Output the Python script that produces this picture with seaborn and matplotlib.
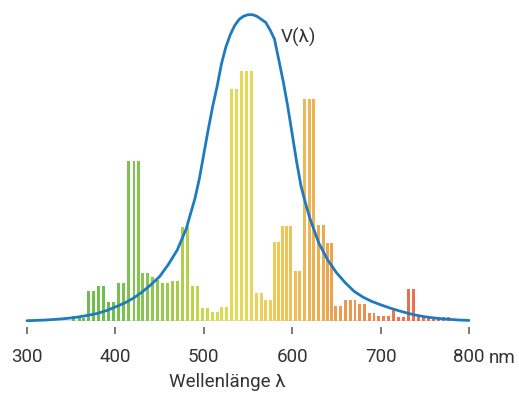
import matplotlib
matplotlib.use("Agg")
import numpy as np
import pandas as pd
import matplotlib.pyplot as plt
from matplotlib.colors import LinearSegmentedColormap, to_hex
import seaborn as sns

# Emission lines of the lamp: wavelength (nm) and relative power
line_nm = [353, 359, 364, 370, 375.5, 381, 387, 392.5, 398, 404, 409.5, 415,
           421, 426, 431, 436.5, 442, 448, 453.5, 459, 465, 470.5, 476, 482,
           487.5, 493, 499, 504.5, 510, 515, 520.5, 525.5, 531, 537, 542.5,
           548, 554, 559.5, 565, 570, 575, 580, 584.5, 589, 594, 598.5, 603.5,
           608.5, 614, 619.5, 624, 630, 635, 639.5, 644.5, 649.5, 654.5, 660,
           665.5, 671, 676.5, 682, 687, 692.5, 698, 703.5, 709, 715, 720.5,
           726, 732, 737.5, 743, 748.5, 754.5, 760, 765.5, 771.5, 777]
line_power = [0.017, 0.011, 0.009, 0.098, 0.098, 0.114, 0.114, 0.062, 0.062,
              0.123, 0.123, 0.522, 0.522, 0.522, 0.156, 0.156, 0.143, 0.134,
              0.123, 0.123, 0.132, 0.132, 0.306, 0.306, 0.115, 0.115, 0.043,
              0.043, 0.028, 0.028, 0.045, 0.045, 0.756, 0.756, 0.816, 0.816,
              0.816, 0.090, 0.090, 0.067, 0.067, 0.259, 0.259, 0.310, 0.310,
              0.310, 0.163, 0.163, 0.725, 0.725, 0.725, 0.313, 0.313, 0.256,
              0.256, 0.049, 0.049, 0.069, 0.069, 0.069, 0.056, 0.056, 0.025,
              0.025, 0.017, 0.017, 0.017, 0.041, 0.014, 0.014, 0.103, 0.103,
              0.012, 0.012, 0.012, 0.012, 0.012, 0.012, 0.012]

# Luminosity function V(lambda)
v_nm = [300, 310, 320, 330, 340, 350, 360, 370, 380, 390, 400, 410, 420, 430,
        440, 450, 460, 470, 480, 490, 495, 500, 505, 510, 515, 520, 525, 530,
        535, 540, 545, 550, 555, 560, 565, 570, 575, 580, 585, 590, 595, 600,
        605, 610, 615, 620, 625, 630, 640, 650, 660, 670, 680, 690, 700, 710,
        720, 730, 740, 750, 760, 770, 780, 790, 800]
v_val = [0.001, 0.002, 0.003, 0.005, 0.007, 0.010, 0.014, 0.019, 0.025, 0.034,
         0.046, 0.058, 0.074, 0.094, 0.118, 0.145, 0.185, 0.232, 0.300, 0.400,
         0.465, 0.545, 0.625, 0.700, 0.765, 0.840, 0.895, 0.935, 0.965, 0.985,
         0.995, 1.000, 1.000, 0.995, 0.985, 0.975, 0.950, 0.920, 0.850, 0.780,
         0.700, 0.610, 0.520, 0.440, 0.385, 0.335, 0.295, 0.255, 0.200, 0.158,
         0.125, 0.097, 0.078, 0.064, 0.053, 0.043, 0.034, 0.026, 0.019, 0.014,
         0.010, 0.007, 0.005, 0.003, 0.002]

tick_values = [300, 400, 500, 600, 700, 800]
tick_labels = ["300", "400", "500", "600", "700", "800"]

# Spectral colour ramp for the bars
ramp_nm = [350, 400, 430, 470, 490, 510, 540, 570, 600, 620, 650, 690, 730, 780]
ramp_col = ["#6bbd4b", "#72c04c", "#85c650", "#a6cd4b", "#bfd44b", "#d6da4f",
            "#e5db57", "#eecf58", "#efc056", "#eeb553", "#eca04f", "#ec8a4e",
            "#e8704a", "#ec6f4e"]

sns.set_style("white")
plt.rcParams["font.family"] = ["Roboto", "DejaVu Sans"]

W, H = 519, 394
fig = plt.figure(figsize=(W / 100, H / 100), dpi=100)
base_px, top_px = 321, 8
ax = fig.add_axes([27 / W, (H - base_px) / H, 442 / W, (base_px - top_px) / H])

cmap = LinearSegmentedColormap.from_list(
    "spectrum",
    [((n - ramp_nm[0]) / (ramp_nm[-1] - ramp_nm[0]), c) for n, c in zip(ramp_nm, ramp_col)])
palette = {n: to_hex(cmap((n - ramp_nm[0]) / (ramp_nm[-1] - ramp_nm[0]))) for n in line_nm}

df = pd.DataFrame({"nm": line_nm, "power": line_power})
bar_nm = 3.3
width = bar_nm / np.diff(np.sort(line_nm)).min()
sns.barplot(data=df, x="nm", y="power", hue="nm", palette=palette,
            native_scale=True, width=width, legend=False, linewidth=0,
            saturation=1, errorbar=None, ax=ax, zorder=2)

ax.axhline(0, color="#6e6e6e", lw=1.0, zorder=1)

sns.lineplot(x=v_nm, y=v_val, color="#1f7bbf", lw=2.0, ax=ax, zorder=3,
             estimator=None, clip_on=False)

ax.set_xlim(300, 800)
ax.set_ylim(0, (base_px - top_px) / 306.3)
ax.set_yticks([])
for s in ["left", "right", "top"]:
    ax.spines[s].set_visible(False)
ax.spines["bottom"].set_position(("outward", 4.3))
ax.spines["bottom"].set_visible(False)
ax.set_xticks(tick_values)
ax.set_xticklabels(tick_labels)
ax.tick_params(axis="x", bottom=True, length=5, width=1.1, color="#555555",
               pad=10.5, labelsize=13.5, labelcolor="#333333")
ax.set_xlabel("")
ax.set_ylabel("")

ax.annotate("nm", xy=(800, 0), xycoords="data", xytext=(14.4, -30.4),
            textcoords="offset points", ha="left", va="baseline",
            fontsize=13.5, color="#333333", annotation_clip=False)

ax.text(0.4536, -66 / (base_px - top_px), "Wellenlänge λ",
        transform=ax.transAxes, ha="center", va="baseline",
        fontsize=13.5, color="#333333")

ax.text(587, 0.925, "V(λ)", ha="left", va="center", fontsize=13.5,
        color="#333333")

fig.savefig("out.png", dpi=100)
